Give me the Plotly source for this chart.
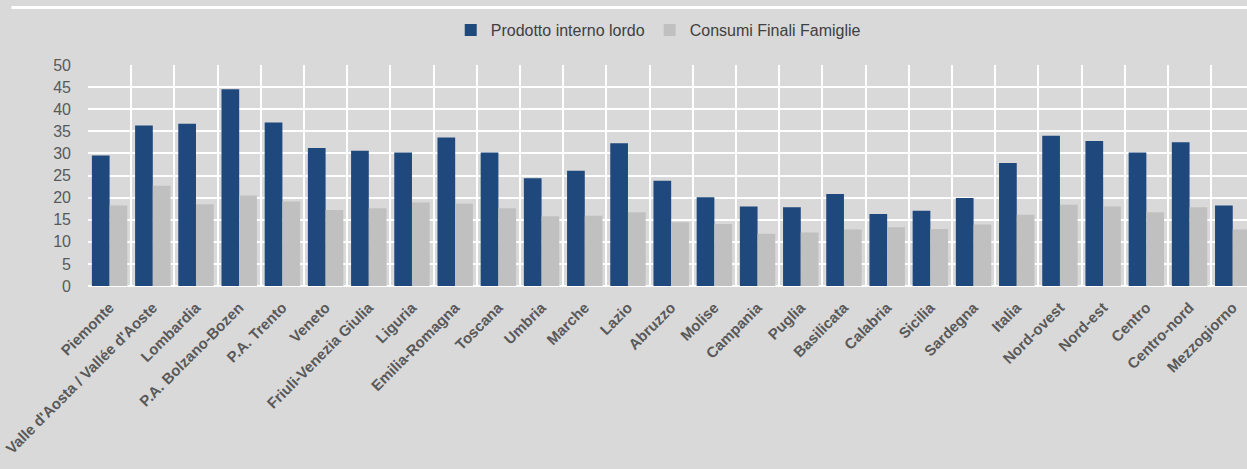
import plotly.graph_objects as go

regioni = [
    "Piemonte", "Valle d'Aosta / Vallée d'Aoste", "Lombardia", "P.A. Bolzano-Bozen",
    "P.A. Trento", "Veneto", "Friuli-Venezia Giulia", "Liguria", "Emilia-Romagna",
    "Toscana", "Umbria", "Marche", "Lazio", "Abruzzo", "Molise", "Campania",
    "Puglia", "Basilicata", "Calabria", "Sicilia", "Sardegna", "Italia",
    "Nord-ovest", "Nord-est", "Centro", "Centro-nord", "Mezzogiorno",
]

pil = [
    29.5, 36.3, 36.7, 44.5, 37.0, 31.2, 30.6, 30.2, 33.6,
    30.2, 24.4, 26.1, 32.3, 23.8, 20.1, 18.0,
    17.8, 20.8, 16.3, 17.0, 19.9, 27.8,
    34.0, 32.8, 30.2, 32.5, 18.2,
]

consumi = [
    18.2, 22.7, 18.5, 20.5, 19.1, 17.2, 17.6, 18.9, 18.6,
    17.6, 15.8, 15.9, 16.7, 14.4, 14.0, 11.8,
    12.1, 12.8, 13.3, 12.9, 13.9, 16.1,
    18.4, 18.0, 16.7, 17.8, 12.8,
]

y_ticks = [0, 5, 10, 15, 20, 25, 30, 35, 40, 45, 50]

BLU = "#1f497d"
GRIGIO = "#c0c0c0"
SFONDO = "#d9d9d9"
TESTO = "#595959"

fig = go.Figure()
fig.add_trace(go.Bar(x=regioni, y=pil, name="Prodotto interno lordo",
                     marker=dict(color=BLU, line=dict(width=0))))
fig.add_trace(go.Bar(x=regioni, y=consumi, name="Consumi Finali Famiglie",
                     marker=dict(color=GRIGIO, line=dict(width=0))))

fig.update_layout(
    width=1247, height=469,
    margin=dict(l=88, r=0, t=65, b=182.5, autoexpand=False),
    paper_bgcolor=SFONDO, plot_bgcolor=SFONDO,
    barmode="group", bargap=0.18, bargroupgap=0,
    font=dict(family="Liberation Sans, Arial, sans-serif", color=TESTO),
    legend=dict(orientation="h", x=0.492, xanchor="center", y=1.158, yanchor="middle",
                font=dict(size=16, color="#404040"), bgcolor="rgba(0,0,0,0)",
                itemwidth=30, traceorder="normal"),
    showlegend=True,
)

fig.update_xaxes(
    type="category", range=[-0.5, 26.33], tickson="boundaries",
    showgrid=True, gridcolor="white", gridwidth=1.5,
    ticks="", tickangle=-45, automargin=False, ticklabelstandoff=9,
    tickfont=dict(size=15, color=TESTO, weight="bold"),
    showline=False, zeroline=False,
)
fig.update_yaxes(
    range=[0, 50], tickvals=y_ticks, showgrid=True, gridcolor="white", gridwidth=1.5,
    zeroline=True, zerolinecolor="white", zerolinewidth=2,
    ticks="", ticklabelstandoff=16, automargin=False,
    tickfont=dict(size=16, color=TESTO),
)

# white rule across the top of the frame
fig.add_shape(type="line", xref="paper", yref="paper",
              x0=-0.066, x1=1.01, y0=1.26, y1=1.26,
              line=dict(color="white", width=3))

fig.write_html("out.html")
